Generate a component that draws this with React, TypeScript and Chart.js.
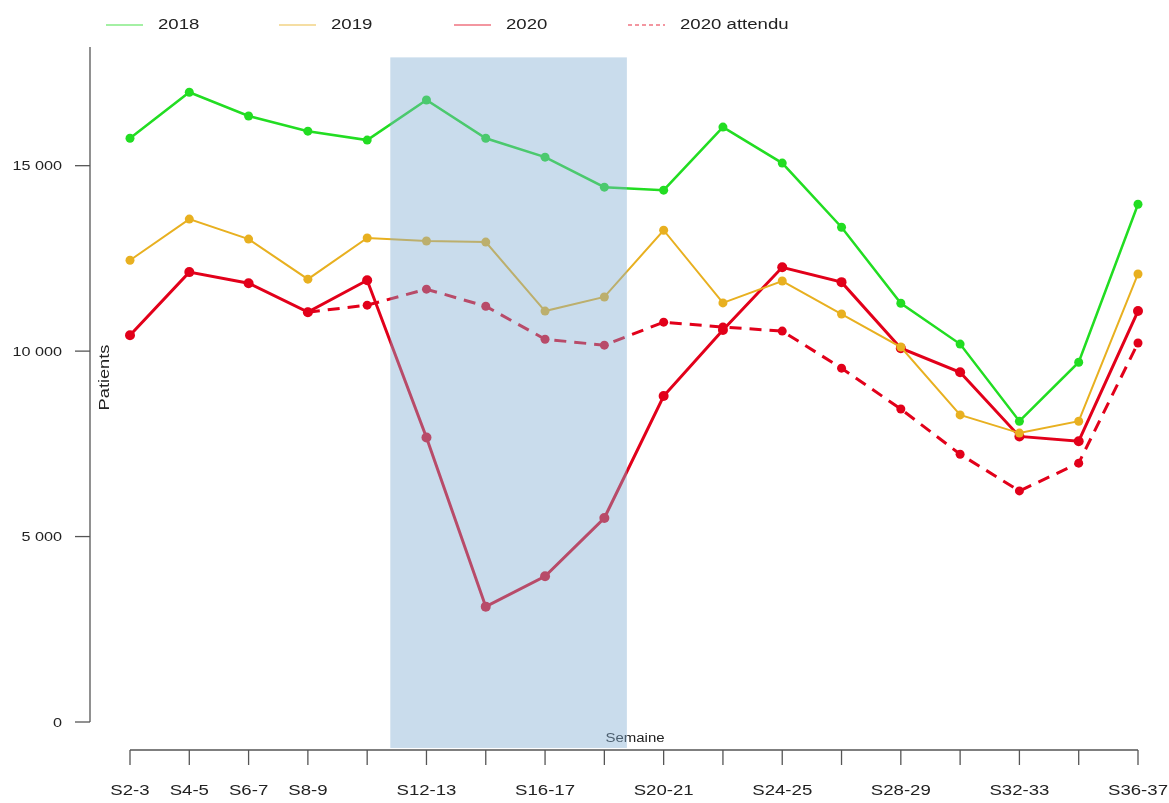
import React, { useEffect, useRef } from 'react';
import { Chart, registerables } from 'chart.js';

Chart.register(...registerables);

const weeks = ['S2-3', 'S4-5', 'S6-7', 'S8-9', 'S10-11', 'S12-13', 'S14-15', 'S16-17', 'S18-19',
  'S20-21', 'S22-23', 'S24-25', 'S26-27', 'S28-29', 'S30-31', 'S32-33', 'S34-35', 'S36-37'];
const shownWeekLabels = ['S2-3', 'S4-5', 'S6-7', 'S8-9', '', 'S12-13', '', 'S16-17', '',
  'S20-21', '', 'S24-25', '', 'S28-29', '', 'S32-33', '', 'S36-37'];

const values2018 = [15740, 16980, 16340, 15930, 15690, 16770, 15740, 15230, 14420, 14340, 16040, 15070, 13340, 11290, 10190, 8110, 9700, 13960];
const values2019 = [12450, 13560, 13020, 11940, 13050, 12970, 12940, 11080, 11460, 13260, 11300, 11890, 11000, 10110, 8280, 7790, 8110, 12080];
const values2020 = [10430, 12130, 11830, 11050, 11910, 7670, 3110, 3930, 5500, 8790, 10570, 12260, 11860, 10080, 9430, 7700, 7570, 11080];
const expected2020 = [null, null, null, 11050, 11240, 11670, 11210, 10320, 10160, 10780, 10650, 10540, 9540, 8440, 7220, 6230, 6980, 10220];

const seriesNames = ['2018', '2019', '2020', '2020 attendu'];
const seriesColors = ['#22dd22', '#e8b020', '#e2001a', '#e2001a'];

const yTickValues = [0, 5000, 10000, 15000];
const yTickLabels = ['0', '5 000', '10 000', '15 000'];
const yMax = 18200;

// shaded period (in week-index units and value units)
const shadeFrom = 4.39;
const shadeTo = 8.38;
const shadeTop = 17920;
const shadeBottom = -700;

const FONT = '"Liberation Sans", Arial, sans-serif';
const STRETCH = 1.2;
const TEXT_COLOR = '#222';

function drawText(ctx: CanvasRenderingContext2D, text: string, x: number, y: number, size: number,
  align: 'left' | 'center' | 'right', sx = STRETCH) {
  ctx.save();
  ctx.font = `${size}px ${FONT}`;
  ctx.fillStyle = TEXT_COLOR;
  ctx.textAlign = align;
  ctx.textBaseline = 'middle';
  ctx.translate(x, y);
  ctx.scale(sx, 1);
  ctx.fillText(text, 0, 0);
  ctx.restore();
}

const decorPlugin = {
  id: 'decor',
  beforeDatasetsDraw(chart: any) {
    const { ctx, scales } = chart;
    const x = scales.x;
    const y = scales.y;
    const axisY = y.getPixelForValue(0) + 28;
    const cx = (x.getPixelForValue(0) + x.getPixelForValue(weeks.length - 1)) / 2;
    drawText(ctx, 'Semaine', cx + 1, axisY - 11, 12.5, 'center');
  },
  afterDatasetsDraw(chart: any) {
    const { ctx, scales } = chart;
    const x = scales.x;
    const y = scales.y;
    ctx.save();
    // shaded rectangle on top of lines
    const rx0 = x.getPixelForValue(shadeFrom);
    const rx1 = x.getPixelForValue(shadeTo);
    const ry0 = y.getPixelForValue(shadeTop);
    const ry1 = y.getPixelForValue(shadeBottom);
    ctx.fillStyle = 'rgba(130,174,211,0.43)';
    ctx.fillRect(rx0, ry0, rx1 - rx0, ry1 - ry0);

    // y axis
    const axisX = x.getPixelForValue(0) - 40;
    ctx.strokeStyle = '#555';
    ctx.lineWidth = 1.3;
    ctx.beginPath();
    ctx.moveTo(axisX, y.getPixelForValue(yMax));
    ctx.lineTo(axisX, y.getPixelForValue(0));
    ctx.stroke();
    yTickValues.forEach((v, i) => {
      const py = y.getPixelForValue(v);
      ctx.beginPath();
      ctx.moveTo(axisX - 15, py);
      ctx.lineTo(axisX, py);
      ctx.stroke();
      drawText(ctx, yTickLabels[i], axisX - 28, py + 1, 13.5, 'right');
    });
    // y title
    ctx.save();
    ctx.translate(axisX + 15, (y.getPixelForValue(0) + y.getPixelForValue(yMax)) / 2 - 7);
    ctx.rotate(-Math.PI / 2);
    drawText(ctx, 'Patients', 0, 0, 14, 'center', 1.3);
    ctx.restore();

    // x axis
    const axisY = y.getPixelForValue(0) + 28;
    ctx.beginPath();
    ctx.moveTo(x.getPixelForValue(0), axisY);
    ctx.lineTo(x.getPixelForValue(weeks.length - 1), axisY);
    ctx.stroke();
    weeks.forEach((_, i) => {
      const px = x.getPixelForValue(i);
      ctx.beginPath();
      ctx.moveTo(px, axisY);
      ctx.lineTo(px, axisY + 15);
      ctx.stroke();
      if (shownWeekLabels[i]) drawText(ctx, shownWeekLabels[i], px, axisY + 41, 15.5, 'center');
    });

    // legend
    const legendY = 25;
    const legendStarts = [106, 279, 454, 628];
    seriesNames.forEach((name, i) => {
      const lx = legendStarts[i];
      ctx.save();
      ctx.globalAlpha = 0.55;
      ctx.strokeStyle = seriesColors[i];
      ctx.lineWidth = 1.5;
      if (i === 3) ctx.setLineDash([4, 3]);
      ctx.beginPath();
      ctx.moveTo(lx, legendY);
      ctx.lineTo(lx + 37, legendY);
      ctx.stroke();
      ctx.restore();
      drawText(ctx, name, lx + 52, legendY, 15.5, 'left');
    });
    ctx.restore();
  },
};

export default function App() {
  const canvasRef = useRef<HTMLCanvasElement | null>(null);

  useEffect(() => {
    if (!canvasRef.current) return;
    const chart = new Chart(canvasRef.current, {
      type: 'line',
      data: {
        labels: weeks,
        datasets: [
          {
            label: seriesNames[0], data: values2018, borderColor: seriesColors[0], backgroundColor: seriesColors[0],
            borderWidth: 2.5, pointRadius: 4.5, pointBorderWidth: 0, tension: 0, clip: false as any,
          },
          {
            label: seriesNames[1], data: values2019, borderColor: seriesColors[1], backgroundColor: seriesColors[1],
            borderWidth: 2, pointRadius: 4.5, pointBorderWidth: 0, tension: 0, clip: false as any,
          },
          {
            label: seriesNames[3], data: expected2020, borderColor: seriesColors[3], backgroundColor: seriesColors[3],
            borderWidth: 3, borderDash: [12, 8], pointRadius: 4.5, pointBorderWidth: 0, tension: 0, spanGaps: false, clip: false as any,
          },
          {
            label: seriesNames[2], data: values2020, borderColor: seriesColors[2], backgroundColor: seriesColors[2],
            borderWidth: 3, pointRadius: 5, pointBorderWidth: 0, tension: 0, clip: false as any,
          },
        ],
      },
      options: {
        responsive: false,
        animation: false,
        devicePixelRatio: 1,
        layout: { padding: { left: 130, right: 31, top: 47, bottom: 81 } },
        plugins: { legend: { display: false }, tooltip: { enabled: false }, title: { display: false } },
        scales: {
          x: { type: 'category', display: false, offset: false },
          y: { type: 'linear', display: false, min: 0, max: yMax },
        },
      },
      plugins: [decorPlugin],
    });
    return () => chart.destroy();
  }, []);

  return (
    <div style={{ position: 'absolute', left: 0, top: 0, width: 1169, height: 803, background: '#fff' }}>
      <canvas ref={canvasRef} width={1169} height={803} />
    </div>
  );
}
